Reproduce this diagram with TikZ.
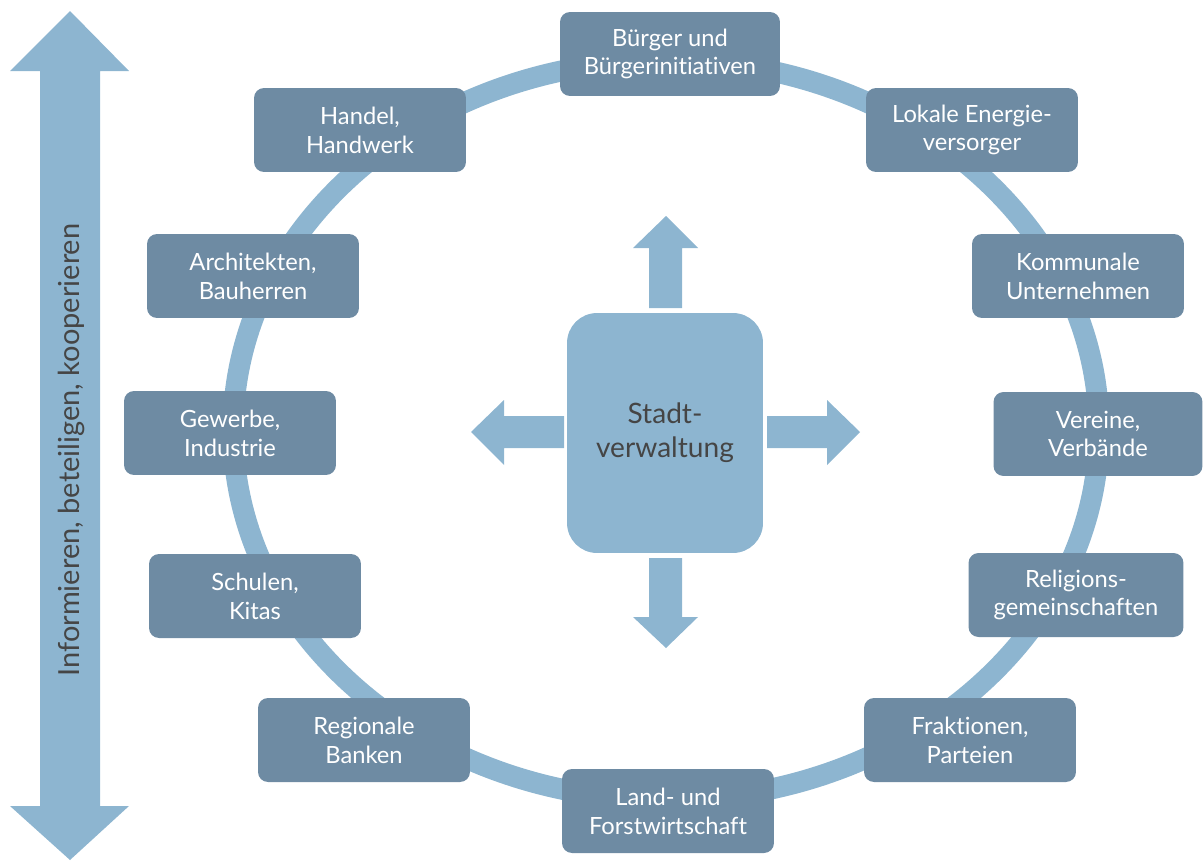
\documentclass[tikz,border=0pt]{standalone}
\usepackage{fontspec}
\setmainfont{Lato}[Ligatures={NoCommon,NoRare}]
\usepackage{xcolor}
\usepackage{tikz}
\usetikzlibrary{positioning}

\definecolor{hellblau}{HTML}{8DB5D0}
\definecolor{kastenblau}{HTML}{6E8BA3}
\definecolor{dunkeltext}{HTML}{454545}

\begin{document}
\begin{tikzpicture}[
  x=0.02cm, y=-0.02cm,
  akteur/.style={fill=kastenblau, rounded corners=0.2cm, align=center,
                 text=white, font=\fontsize{13.5}{16.4}\selectfont,
                 minimum width=4.24cm, minimum height=1.68cm, inner sep=0pt},
  mitte/.style={fill=hellblau, rounded corners=0.6cm, align=center,
                text=dunkeltext, font=\fontsize{16}{19.3}\selectfont,
                minimum width=3.92cm, minimum height=4.8cm, inner sep=0pt},
  pfeil/.style={fill=hellblau},
  seite/.style={text=dunkeltext, font=\fontsize{16.5}{19}\selectfont, rotate=90}]
\useasboundingbox (0,0) rectangle (1203,862);
% Ring der Akteure
\draw[hellblau, line width=0.42cm] (666,430) ellipse [x radius=8.66cm, y radius=7.4cm];
% linker Doppelpfeil
\fill[pfeil] (70,11) -- (129,71) -- (100,71) -- (100,806) -- (129,806) -- (70,860)
  -- (10,806) -- (40,806) -- (40,71) -- (10,71) -- cycle;
\node[seite] (leitsatz) at (71,450) {Informieren, beteiligen, kooperieren};
% Stadtverwaltung mit vier Pfeilen
\node[mitte] (stadt) at (665,433) {Stadt-\\verwaltung};
\fill[pfeil] (649,308) -- (649,248) -- (633,248) -- (666,216) -- (698,248) -- (682,248) -- (682,308) -- cycle;
\fill[pfeil] (649,558) -- (649,617) -- (633,617) -- (666,648) -- (698,617) -- (682,617) -- (682,558) -- cycle;
\fill[pfeil] (564,416) -- (504,416) -- (504,400) -- (471,432) -- (504,465) -- (504,448) -- (564,448) -- cycle;
\fill[pfeil] (767,416) -- (827,416) -- (827,400) -- (860,432) -- (827,465) -- (827,448) -- (767,448) -- cycle;
% Akteure
\node[akteur, minimum width=4.4cm] (buerger) at (670,54) {Bürger und\\Bürgerinitiativen};
\node[akteur] (energie) at (972,130) {Lokale Energie-\\versorger};
\node[akteur] (handel) at (360,130) {Handel,\\Handwerk};
\node[akteur] (architekten) at (253,276) {Architekten,\\Bauherren};
\node[akteur] (kommunal) at (1078,276) {Kommunale\\Unternehmen};
\node[akteur] (gewerbe) at (230,433) {Gewerbe,\\Industrie};
\node[akteur, minimum width=4.18cm] (vereine) at (1098,434) {Vereine,\\Verbände};
\node[akteur, minimum width=4.3cm] (religion) at (1076,595) {Religions-\\gemeinschaften};
\node[akteur] (schulen) at (255,596) {Schulen,\\Kitas};
\node[akteur] (banken) at (364,740) {Regionale\\Banken};
\node[akteur] (fraktionen) at (970,740) {Fraktionen,\\Parteien};
\node[akteur] (land) at (668,811) {Land- und\\Forstwirtschaft};
\end{tikzpicture}
\end{document}
